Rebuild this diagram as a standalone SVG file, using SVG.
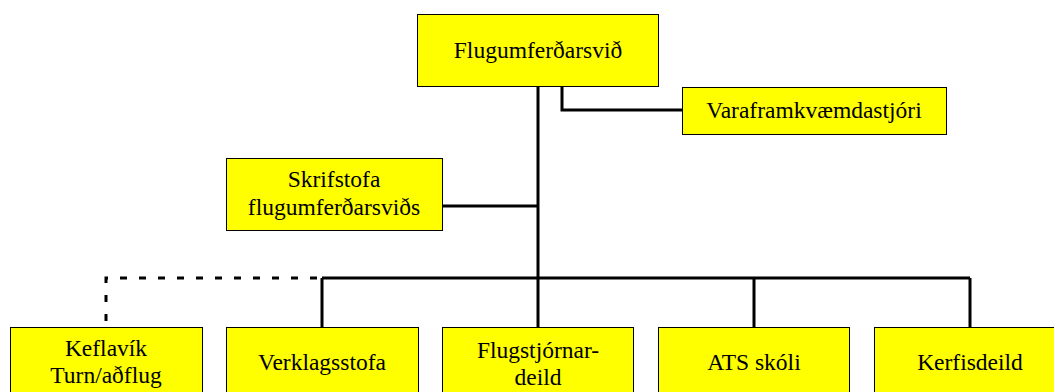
<svg xmlns="http://www.w3.org/2000/svg" width="1054" height="392" viewBox="0 0 1054 392">
<style>
.box{fill:#ffff00;stroke:#000;stroke-width:1}
.t{font-family:"Liberation Serif","Times New Roman",serif;font-size:23.5px;fill:#000;text-anchor:middle}
.c{fill:none;stroke:#000;stroke-width:3}
.d{fill:none;stroke:#000;stroke-width:3;stroke-dasharray:7 12}
</style>
<rect width="1054" height="392" fill="#fff"/>
<g id="connectors">
<path class="c" d="M538 86V327"/>
<path class="c" d="M562 86V110H682"/>
<path class="c" d="M442 206H538"/>
<path class="c" d="M322 278H970"/>
<path class="c" d="M322 278V327"/>
<path class="c" d="M754 278V327"/>
<path class="c" d="M970 278V327"/>
<path class="d" d="M106 321V278H322"/>
</g>
<g id="flugumferdarsvid">
<rect class="box" x="417.5" y="14.5" width="241" height="72"/>
<text class="t" x="538" y="58">Flugumferðarsvið</text>
</g>
<g id="varaframkvaemdastjori">
<rect class="box" x="682.5" y="87.5" width="264" height="47"/>
<text class="t" x="814" y="118">Varaframkvæmdastjóri</text>
</g>
<g id="skrifstofa">
<rect class="box" x="226.5" y="158.5" width="216" height="72"/>
<text class="t" x="334" y="187">Skrifstofa</text>
<text class="t" x="334" y="215">flugumferðarsviðs</text>
</g>
<g id="keflavik">
<rect class="box" x="10.5" y="327.5" width="192" height="80"/>
<text class="t" x="106" y="356">Keflavík</text>
<text class="t" x="106" y="383">Turn/aðflug</text>
</g>
<g id="verklagsstofa">
<rect class="box" x="226.5" y="327.5" width="192" height="80"/>
<text class="t" x="322" y="370">Verklagsstofa</text>
</g>
<g id="flugstjornardeild">
<rect class="box" x="442.5" y="327.5" width="191" height="80"/>
<text class="t" x="538" y="358">Flugstjórnar-</text>
<text class="t" x="538" y="385">deild</text>
</g>
<g id="ats-skoli">
<rect class="box" x="658.5" y="327.5" width="191" height="80"/>
<text class="t" x="754" y="370">ATS skóli</text>
</g>
<g id="kerfisdeild">
<rect class="box" x="874.5" y="327.5" width="192" height="80"/>
<text class="t" x="970" y="370">Kerfisdeild</text>
</g>
</svg>
